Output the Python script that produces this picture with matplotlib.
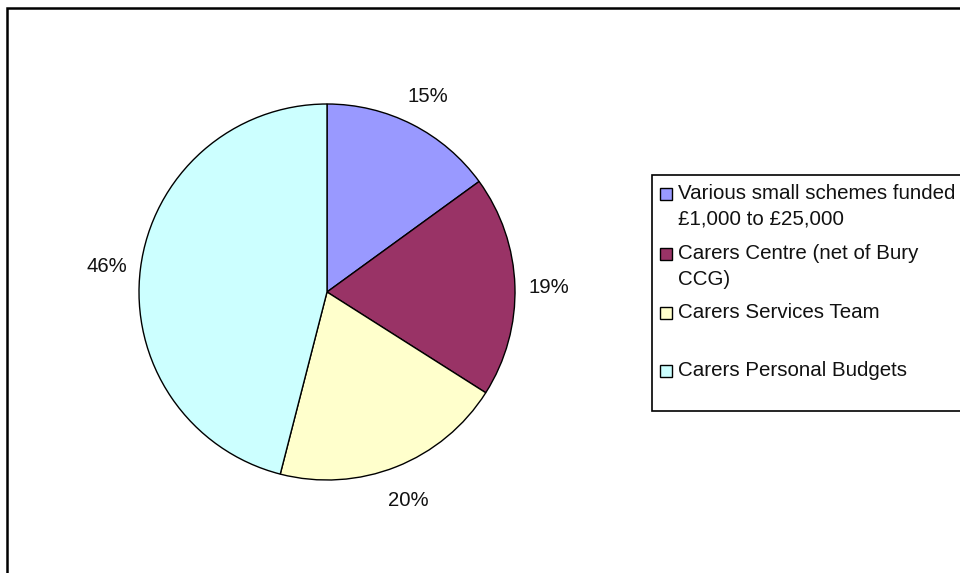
import matplotlib
matplotlib.use('Agg')
from matplotlib import pyplot as plt
from matplotlib.patches import Rectangle

labels = ['Various small schemes funded\n£1,000 to £25,000',
          'Carers Centre (net of Bury\nCCG)',
          'Carers Services Team',
          'Carers Personal Budgets']
shares = [15, 19, 20, 46]
colors = ['#9999FF', '#993366', '#FFFFCC', '#CCFFFF']

plt.rcParams['font.family'] = ['Liberation Sans', 'DejaVu Sans']

W, H = 960, 573
fig = plt.figure(figsize=(W / 100, H / 100), dpi=100)


def px(x, y):
    # pixel coords (from top-left) to figure fraction
    return x / W, 1 - y / H


# outer chart border (runs off the right and bottom edges)
fig.patches.append(Rectangle(px(7, 600), 1.2, (600 - 8) / H, transform=fig.transFigure,
                             fill=False, edgecolor='black', linewidth=1.8))

# pie axes
cx, cy, r = 327, 292, 188
x0, y0 = px(cx - r, cy + r)
ax = fig.add_axes([x0, y0, 2 * r / W, 2 * r / H])
wedges, texts, autotexts = ax.pie(shares, colors=colors, startangle=90, counterclock=False,
                                  radius=1, autopct='%1.0f%%', pctdistance=1.18,
                                  wedgeprops=dict(edgecolor='black', linewidth=1),
                                  textprops=dict(fontsize=14.6, color='#111111'))
for t in autotexts:
    t.set_va('center_baseline')
ax.set_xlim(-1, 1)
ax.set_ylim(-1, 1)
ax.set_aspect('equal')
ax.axis('off')

# legend box
lx0, ly0 = px(652, 411)
fig.patches.append(Rectangle((lx0, ly0), 0.5, (411 - 175) / H, transform=fig.transFigure,
                             facecolor='white', edgecolor='black', linewidth=1.2))
first_line = [194, 254, 313, 371]
for lab, col, yc in zip(labels, colors, first_line):
    mx, my = px(660, yc + 6)
    fig.patches.append(Rectangle((mx, my), 12 / W, 12 / H, transform=fig.transFigure,
                                 facecolor=col, edgecolor='black', linewidth=1))
    tx, ty = px(678, yc - 10)
    fig.text(tx, ty, lab, fontsize=14.8, color='#111111', va='top', ha='left',
             linespacing=1.45)

fig.savefig('out.png', dpi=100)
